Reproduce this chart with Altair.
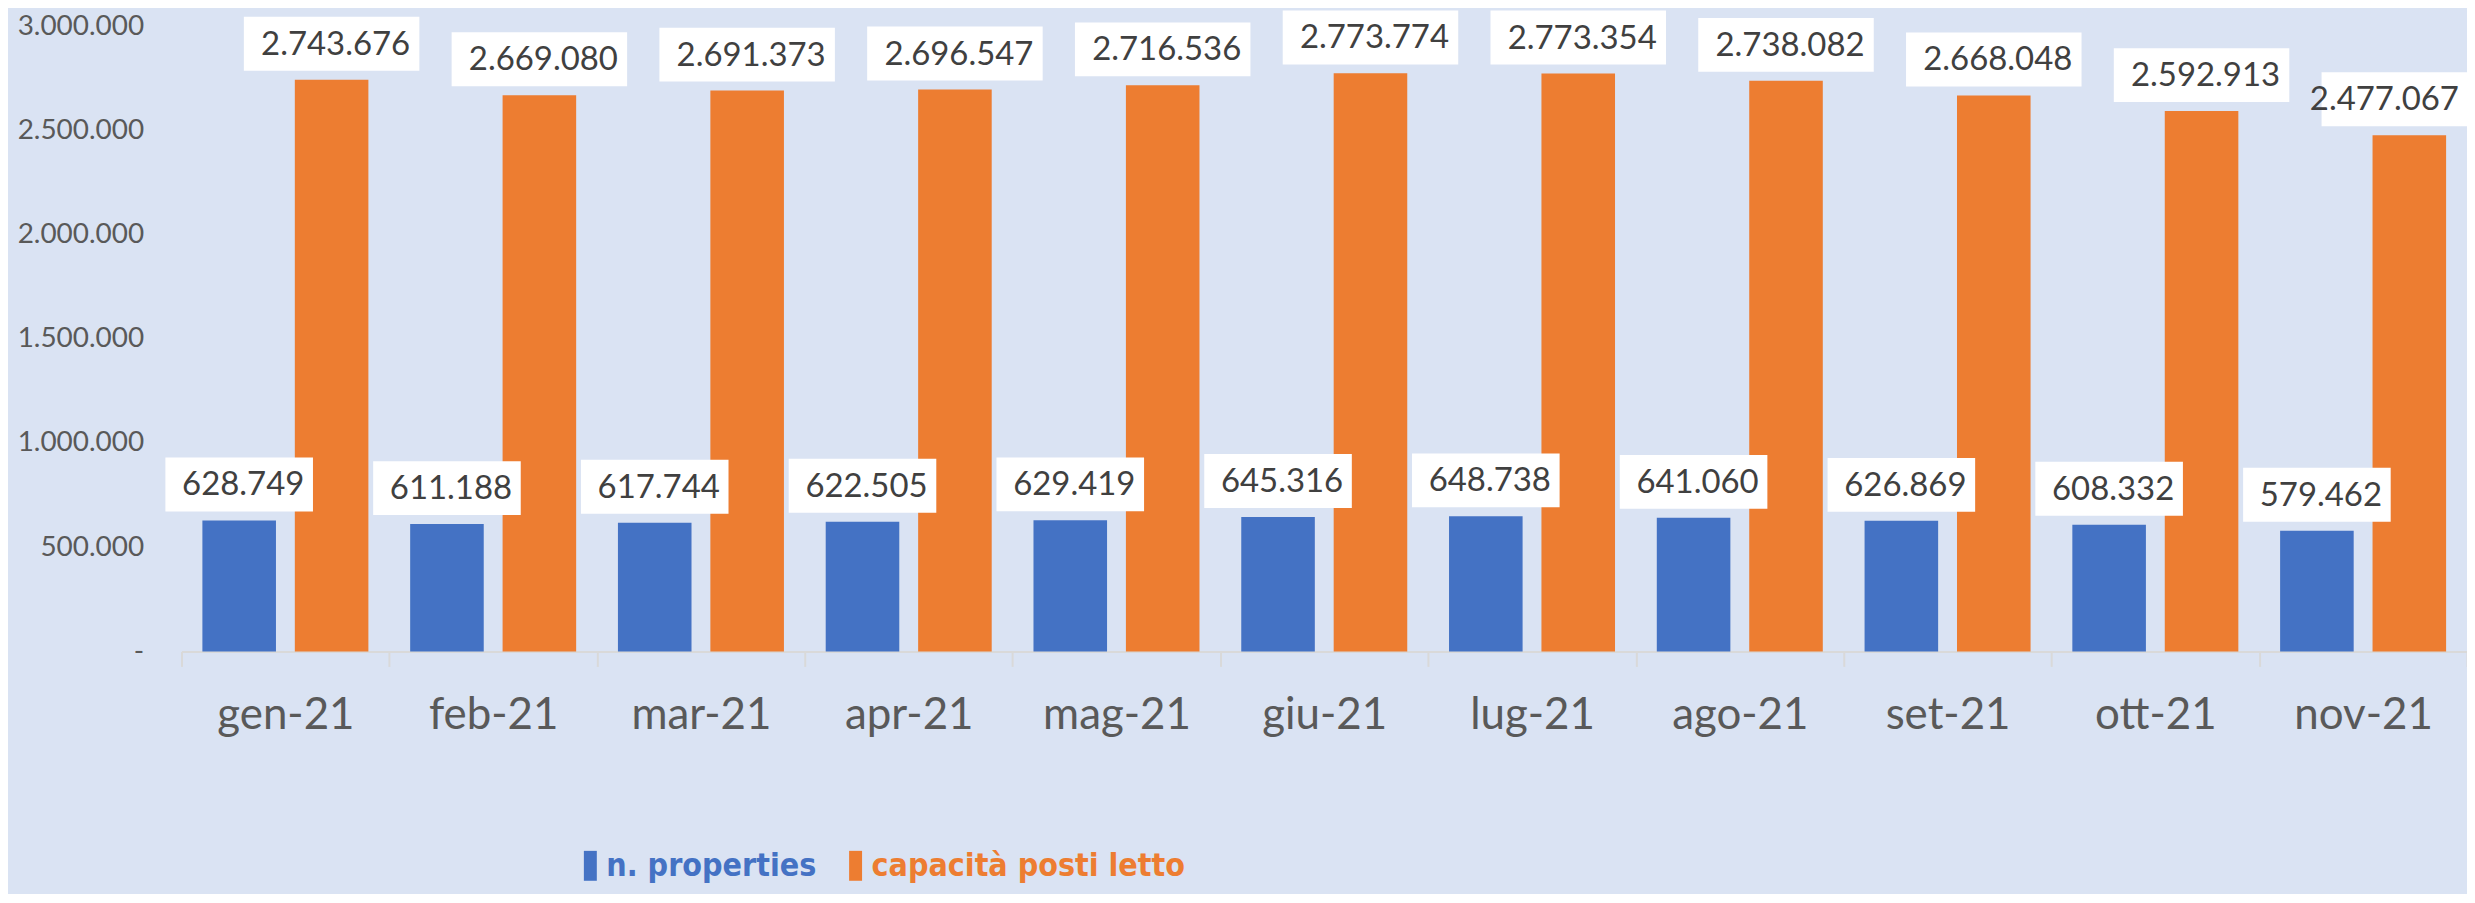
import altair as alt
import pandas as pd

mesi = ["gen-21", "feb-21", "mar-21", "apr-21", "mag-21", "giu-21",
        "lug-21", "ago-21", "set-21", "ott-21", "nov-21"]
serie_nomi = ["n. properties", "capacità posti letto"]
n_properties = [628749, 611188, 617744, 622505, 629419, 645316,
                648738, 641060, 626869, 608332, 579462]
capacita_posti_letto = [2743676, 2669080, 2691373, 2696547, 2716536, 2773774,
                        2773354, 2738082, 2668048, 2592913, 2477067]
y_ticks = [0, 500000, 1000000, 1500000, 2000000, 2500000, 3000000]
colori = ["#4472C4", "#ED7D31"]

df = pd.DataFrame({
    "mese": mesi * 2,
    "serie": [serie_nomi[0]] * len(mesi) + [serie_nomi[1]] * len(mesi),
    "valore": n_properties + capacita_posti_letto,
})

ultimo = (alt.datum.mese == mesi[-1]) & (alt.datum.serie == serie_nomi[1])
non_ultimo = ~ultimo

base = alt.Chart(df).transform_calculate(
    etichetta="replace(replace(format(datum.valore, ','), ',', '.'), ',', '.')"
).encode(
    x=alt.X("mese:N", sort=mesi,
            scale=alt.Scale(paddingInner=0, paddingOuter=0),
            axis=alt.Axis(title=None, labelAngle=0, labelFont="Lato", labelFontSize=44,
                          labelColor="#595959", labelPadding=27,
                          domain=True, domainColor="#D9D9D9", domainWidth=2,
                          ticks=True, tickColor="#D9D9D9", tickWidth=2, tickSize=15,
                          tickBand="extent", grid=False)),
    xOffset=alt.XOffset("serie:N", sort=serie_nomi,
                        scale=alt.Scale(paddingInner=0.204, paddingOuter=0.226)),
    y=alt.Y("valore:Q",
            scale=alt.Scale(domain=[0, 3000000], nice=False, zero=True),
            axis=alt.Axis(title=None, values=y_ticks, domain=False, ticks=False, grid=False,
                          labelFont="Lato", labelFontSize=28, labelColor="#595959",
                          labelPadding=38,
                          labelExpr="datum.value == 0 ? '-\u00a0\u00a0' : replace(replace(format(datum.value, ','), ',', '.'), ',', '.')")),
)

bars = base.mark_bar().encode(
    color=alt.Color("serie:N", sort=serie_nomi,
                    scale=alt.Scale(domain=serie_nomi, range=colori),
                    legend=alt.Legend(title=None, orient="none", direction="horizontal",
                                      legendX=394, legendY=826, padding=0,
                                      symbolType="M-0.433,-1L0.433,-1L0.433,1L-0.433,1Z",
                                      symbolSize=900, symbolStrokeWidth=0, symbolOpacity=1,
                                      labelFont="Liberation Sans Narrow, DejaVu Sans Condensed, Lato",
                                      labelFontWeight="bold", labelFontSize=32,
                                      labelOffset=0, columnPadding=23, labelLimit=0,
                                      labelColor=alt.ExprRef("datum.label == 'n. properties' ? '#4472C4' : '#ED7D31'")))
)

box_blue = base.transform_filter(alt.datum.serie == serie_nomi[0]).mark_point(
    shape="M-1,-0.365L1,-0.365L1,0.365L-1,0.365Z", size=148 * 148,
    filled=True, color="white", opacity=1, strokeWidth=0, yOffset=-36)

box_orange = base.transform_filter(
    (alt.datum.serie == serie_nomi[1]) & (alt.datum.mese != mesi[-1])
).mark_point(
    shape="M-1,-0.307L1,-0.307L1,0.307L-1,0.307Z", size=176 * 176,
    filled=True, color="white", opacity=1, strokeWidth=0, yOffset=-36)

box_last = base.transform_filter(ultimo).mark_point(
    shape="M-1,-0.307L1,-0.307L1,0.307L-1,0.307Z", size=176 * 176,
    filled=True, color="white", opacity=1, strokeWidth=0, yOffset=-36, xOffset=-29)

testo = base.transform_filter(non_ultimo).mark_text(
    font="Lato", fontSize=33, color="#404040",
    baseline="middle", dy=-35, dx=4).encode(text="etichetta:N")

testo_last = base.transform_filter(ultimo).mark_text(
    font="Lato", fontSize=33, color="#404040",
    baseline="middle", dy=-35, dx=-25).encode(text="etichetta:N")

chart = alt.layer(bars, box_blue, box_orange, box_last, testo, testo_last).properties(
    width=2292, height=627,
    autosize=alt.AutoSizeParams(type="none"),
    padding={"left": 174, "top": 17, "right": 0, "bottom": 242},
).configure(background="#DAE3F3").configure_view(stroke=None)

chart.save("out.html", embed_options={"renderer": "svg", "actions": False})
